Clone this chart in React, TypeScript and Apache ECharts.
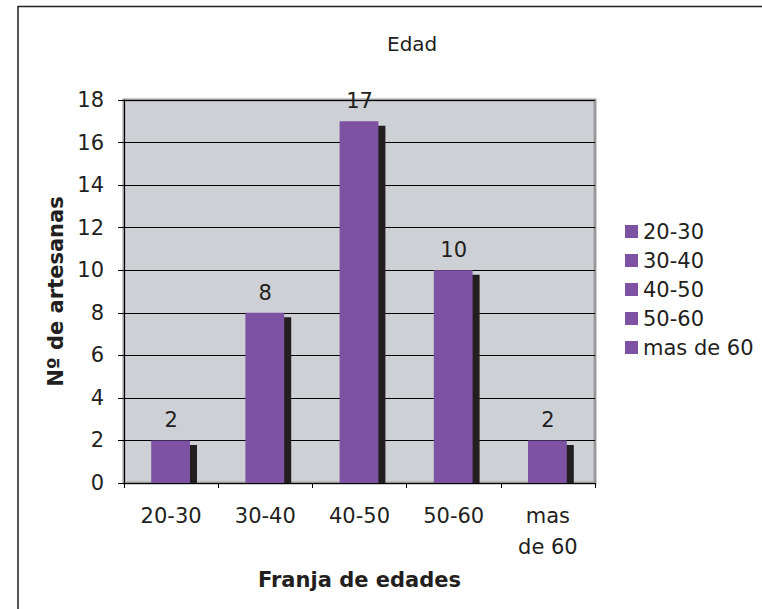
import React, { useEffect, useRef } from "react";
import * as echarts from "echarts";

const categories = ["20-30", "30-40", "40-50", "50-60", "mas de 60"];
const values = [2, 8, 17, 10, 2];
const yTicks = { min: 0, max: 18, interval: 2 };
const titleText = "Edad";
const xAxisName = "Franja de edades";
const yAxisName = "Nº de artesanas";

const PURPLE = "#7d52a3";
const SHADOW = "#231f20";
const TEXT = "#231f20";
const FONT = "'DejaVu Sans', Verdana, sans-serif";

export default function App() {
  const ref = useRef<HTMLDivElement>(null);
  useEffect(() => {
    if (!ref.current) return;
    const chart = echarts.init(ref.current, null, { renderer: "svg" });
    const renderItem = (params: any, api: any) => {
      const xi = api.value(0);
      const v = api.value(1);
      const [cx, top] = api.coord([xi, v]);
      const [, bottom] = api.coord([xi, 0]);
      const bw = api.size([1, 0])[0] * 0.412;
      const left = cx - bw / 2 - 0.5;
      return {
        type: "group",
        children: [
          {
            type: "rect",
            shape: { x: left + 7, y: top + 4.5, width: bw, height: bottom - top - 4.5 },
            style: { fill: SHADOW },
          },
          {
            type: "rect",
            shape: { x: left, y: top, width: bw, height: bottom - top },
            style: { fill: PURPLE },
          },
          {
            type: "text",
            x: cx,
            y: top - 20,
            style: {
              text: String(v),
              align: "center",
              verticalAlign: "middle",
              fontSize: 21,
              fontFamily: FONT,
              fill: TEXT,
            },
          },
        ],
      };
    };
    chart.setOption({
      animation: false,
      backgroundColor: "#ffffff",
      color: [PURPLE],
      title: {
        text: titleText,
        left: 382,
        top: 29,
        textStyle: { fontSize: 20, fontWeight: "normal", color: TEXT, fontFamily: FONT },
      },
      legend: {
        orient: "vertical",
        left: 620,
        top: 216,
        itemWidth: 13,
        itemHeight: 13,
        itemGap: 8,
        icon: "rect",
        selectedMode: false,
        textStyle: { fontSize: 21, color: TEXT, fontFamily: FONT },
        data: categories,
      },
      grid: {
        left: 124,
        right: 167,
        top: 100,
        bottom: 126,
        show: true,
        backgroundColor: "#cdd0d4",
        borderColor: "#9a9a9c",
        borderWidth: 3,
      },
      xAxis: {
        type: "category",
        data: categories,
        name: xAxisName,
        nameLocation: "middle",
        nameGap: 86,
        nameTextStyle: { fontSize: 21, fontWeight: "bold", color: TEXT, fontFamily: FONT },
        axisLine: { show: true, lineStyle: { color: "#000", width: 1 } },
        axisTick: { show: true, length: 5, lineStyle: { color: "#000" } },
        axisLabel: {
          fontSize: 21,
          color: TEXT,
          fontFamily: FONT,
          margin: 17,
          lineHeight: 31,
          interval: 0,
          formatter: (s: string) => s.replace(" de ", "\nde "),
        },
        splitLine: { show: false },
      },
      yAxis: {
        type: "value",
        min: yTicks.min,
        max: yTicks.max,
        interval: yTicks.interval,
        name: yAxisName,
        nameLocation: "middle",
        nameGap: 56,
        nameTextStyle: { fontSize: 21, fontWeight: "bold", color: TEXT, fontFamily: FONT },
        axisLine: { show: true, lineStyle: { color: "#000", width: 1 } },
        axisTick: { show: true, length: 6, lineStyle: { color: "#000" } },
        axisLabel: { fontSize: 21, color: TEXT, fontFamily: FONT, margin: 20 },
        splitLine: { show: true, lineStyle: { color: "#000", width: 1 } },
      },
      graphic: [
        {
          type: "rect",
          shape: { x: 18, y: 6.5, width: 800, height: 700 },
          style: { fill: "none", stroke: "#231f20", lineWidth: 1.5 },
          silent: true,
        },
      ],
      series: categories.map((c, i) => ({
        type: "custom",
        name: c,
        data: [[i, values[i]]],
        encode: { x: 0, y: 1 },
        itemStyle: { color: PURPLE },
        renderItem,
        z: 3,
      })),
    });
    return () => chart.dispose();
  }, []);
  return (
    <div
      ref={ref}
      style={{ position: "fixed", left: 0, top: 0, width: 762, height: 609, background: "#fff" }}
    />
  );
}
